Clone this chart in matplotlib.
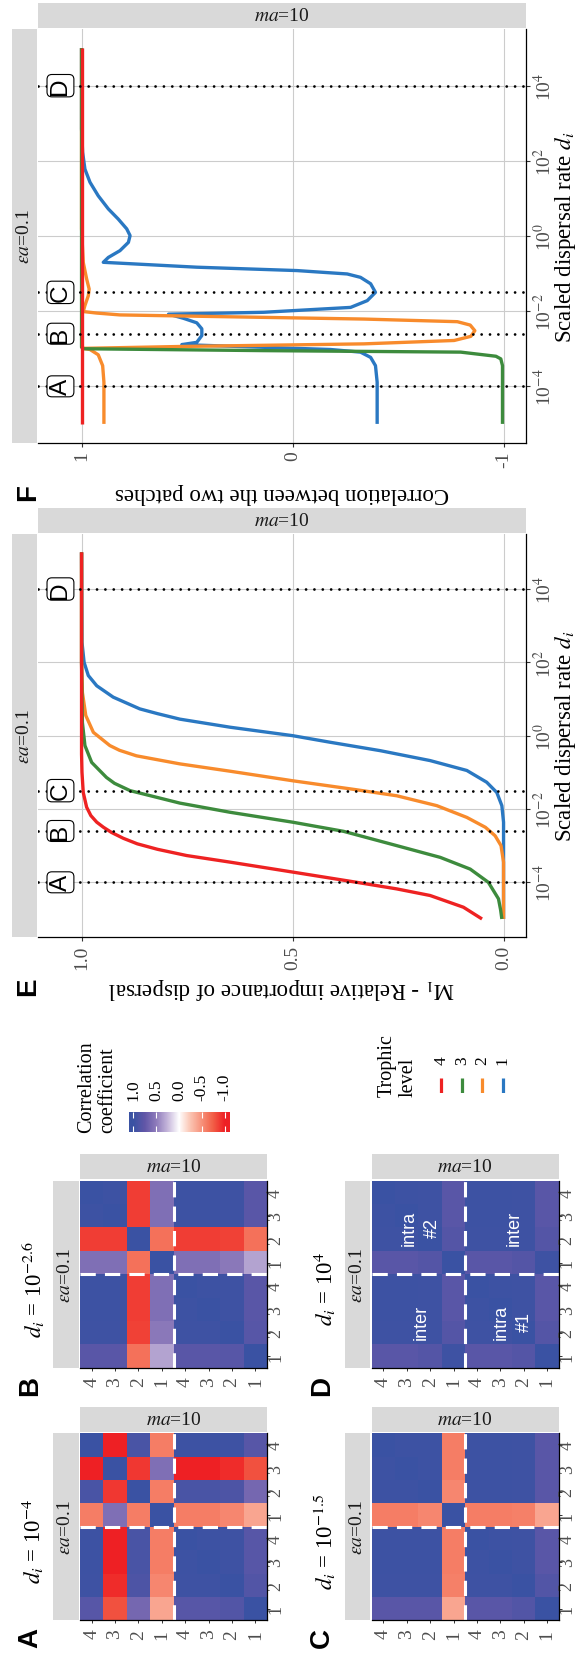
#!/usr/bin/env python3
# Correlation heatmaps (A-D) and dispersal curves (E, F), drawn in portrait
# orientation (the original landscape figure turned a quarter turn left).
# Produces: out.png

import numpy as np
import matplotlib
matplotlib.use("Agg")
import matplotlib.pyplot as plt
from matplotlib.colors import LinearSegmentedColormap, Normalize
from matplotlib.ticker import NullLocator
from matplotlib.transforms import ScaledTranslation

# ───────────────────────────────────────────────────────────────
#  Data
# ───────────────────────────────────────────────────────────────

# correlation matrices, rows/cols in the order shown on the axes:
# patch 2 levels 4,3,2,1 then patch 1 levels 4,3,2,1
level_ticks = ["4", "3", "2", "1", "4", "3", "2", "1"]

corr_A = [[1.00, -1.00, 0.90, -0.60, 0.98, 0.98, 0.97, 0.82],
          [-1.00, 1.00, -0.90, 0.58, -1.00, -1.00, -0.95, -0.80],
          [0.90, -0.90, 1.00, -0.60, 0.90, 0.90, 0.88, 0.64],
          [-0.60, 0.58, -0.60, 1.00, -0.60, -0.60, -0.55, -0.40],
          [0.98, -1.00, 0.90, -0.60, 1.00, 0.98, 0.97, 0.82],
          [0.98, -1.00, 0.90, -0.60, 0.98, 1.00, 0.97, 0.82],
          [0.97, -0.95, 0.88, -0.55, 0.97, 0.97, 1.00, 0.85],
          [0.82, -0.80, 0.64, -0.40, 0.82, 0.82, 0.85, 1.00]]

corr_B = [[1.00, 0.98, -0.88, 0.58, 0.98, 0.98, 0.97, 0.80],
          [0.98, 1.00, -0.88, 0.58, 0.98, 0.98, 0.97, 0.80],
          [-0.88, -0.88, 1.00, -0.65, -0.88, -0.88, -0.86, -0.65],
          [0.58, 0.58, -0.65, 1.00, 0.58, 0.58, 0.52, 0.33],
          [0.98, 0.98, -0.88, 0.58, 1.00, 0.98, 0.97, 0.80],
          [0.98, 0.98, -0.88, 0.58, 0.98, 1.00, 0.97, 0.80],
          [0.97, 0.97, -0.86, 0.52, 0.97, 0.97, 1.00, 0.82],
          [0.80, 0.80, -0.65, 0.33, 0.80, 0.80, 0.82, 1.00]]

corr_C = [[1.00, 0.98, 0.98, -0.60, 0.98, 0.98, 0.97, 0.80],
          [0.98, 1.00, 0.98, -0.60, 0.98, 0.98, 0.97, 0.80],
          [0.98, 0.98, 1.00, -0.55, 0.98, 0.98, 0.97, 0.80],
          [-0.60, -0.60, -0.55, 1.00, -0.60, -0.60, -0.58, -0.40],
          [0.98, 0.98, 0.98, -0.60, 1.00, 0.98, 0.97, 0.80],
          [0.98, 0.98, 0.98, -0.60, 0.98, 1.00, 0.97, 0.80],
          [0.97, 0.97, 0.97, -0.58, 0.97, 0.97, 1.00, 0.85],
          [0.80, 0.80, 0.80, -0.40, 0.80, 0.80, 0.85, 1.00]]

corr_D = [[1.00, 0.98, 0.97, 0.80, 0.98, 0.98, 0.97, 0.80],
          [0.98, 1.00, 0.97, 0.80, 0.98, 0.98, 0.97, 0.80],
          [0.97, 0.97, 1.00, 0.83, 0.97, 0.97, 0.97, 0.83],
          [0.80, 0.80, 0.83, 1.00, 0.80, 0.80, 0.83, 0.97],
          [0.98, 0.98, 0.97, 0.80, 1.00, 0.98, 0.97, 0.80],
          [0.98, 0.98, 0.97, 0.80, 0.98, 1.00, 0.97, 0.80],
          [0.97, 0.97, 0.97, 0.83, 0.97, 0.97, 1.00, 0.83],
          [0.80, 0.80, 0.83, 0.97, 0.80, 0.80, 0.83, 1.00]]

titles = [r"$d_i$ = 10$^{-4}$", r"$d_i$ = 10$^{-2.6}$",
          r"$d_i$ = 10$^{-1.5}$", r"$d_i$ = 10$^{4}$"]

# block annotations in D: (text, column, row)
d_notes = [("intra\n#2", 2.1, 2.0), ("inter", 6.1, 2.0),
           ("inter", 2.1, 6.0), ("intra\n#1", 6.05, 6.0)]

# E: M1 vs log10(d_i), per trophic level
E_log_4 = [-5.0, -4.68, -4.36, -4.18, -4.0, -3.68, -3.45, -3.27, -3.1, -2.95,
           -2.8, -2.64, -2.5, -2.36, -2.18, -1.95, -1.55, -1.0, -0.5, 5.0]
E_val_4 = [0.051, 0.095, 0.174, 0.253, 0.348, 0.522, 0.648, 0.751, 0.820, 0.868,
           0.901, 0.929, 0.948, 0.964, 0.978, 0.988, 0.996, 0.999, 1.0, 1.0]
E_log_3 = [-5.0, -4.75, -4.45, -4.0, -3.64, -3.32, -3.0, -2.61, -2.36, -2.09,
           -1.84, -1.5, -1.3, -1.14, -0.73, -0.27, 0.36, 2.0, 5.0]
E_val_3 = [0.004, 0.007, 0.012, 0.036, 0.079, 0.150, 0.253, 0.379, 0.5, 0.648,
           0.767, 0.885, 0.922, 0.941, 0.976, 0.992, 0.998, 1.0, 1.0]
E_log_2 = [-5.0, -3.45, -3.0, -2.73, -2.5, -2.23, -1.91, -1.64, -1.47, -1.23,
           -0.97, -0.77, -0.55, -0.4, -0.27, 0.09, 0.55, 1.18, 2.0, 5.0]
E_val_2 = [0.0, 0.0, 0.006, 0.02, 0.043, 0.087, 0.158, 0.253, 0.352, 0.5,
           0.648, 0.767, 0.870, 0.910, 0.933, 0.972, 0.990, 0.998, 1.0, 1.0]
E_log_1 = [-5.0, -2.36, -1.91, -1.55, -1.27, -0.95, -0.68, -0.41, -0.18, 0.0,
           0.23, 0.45, 0.6, 0.73, 1.05, 1.36, 1.64, 2.0, 2.55, 5.0]
E_val_1 = [0.0, 0.0, 0.004, 0.016, 0.040, 0.087, 0.174, 0.292, 0.411, 0.5,
           0.648, 0.767, 0.820, 0.862, 0.925, 0.964, 0.984, 0.994, 0.999, 1.0]

# F: correlation between patches vs log10(d_i)
F_log_4 = [-5.0, 5.0]
F_val_4 = [1.0, 1.0]
F_log_3 = [-5.0, -3.45, -3.27, -3.2, -3.09, -3.05, -3.0, -2.96, 5.0]
F_val_3 = [-0.995, -0.995, -0.987, -0.964, -0.797, 0.137, 0.992, 1.0, 1.0]
F_log_2 = [-5.0, -3.89, -3.45, -3.16, -3.02, -2.99, -2.94, -2.87, -2.78, -2.67,
           -2.52, -2.37, -2.28, -2.21, -2.15, -2.10, -2.05, -2.01, -1.85, -1.59,
           -1.41, -1.14, -0.70, 0.19, 5.0]
F_val_2 = [0.894, 0.894, 0.90, 0.921, 0.960, 0.992, 0.533, -0.338, -0.766, -0.845,
           -0.864, -0.842, -0.781, -0.338, 0.295, 0.818, 0.929, 0.992, 0.984, 0.968,
           0.964, 0.976, 0.992, 1.0, 1.0]
F_log_1 = [-5.0, -3.89, -3.45, -3.23, -3.09, -3.02, -2.89, -2.83, -2.65, -2.47,
           -2.31, -2.19, -2.08, -2.03, -1.90, -1.72, -1.50, -1.27, -1.10, -1.01,
           -0.92, -0.83, -0.70, -0.57, -0.39, -0.17, 0.01, 0.19, 0.45, 0.72,
           1.07, 1.43, 1.78, 2.23, 2.85, 5.0]
F_val_1 = [-0.401, -0.401, -0.393, -0.370, -0.322, -0.180, 0.525, 0.454, 0.430, 0.430,
           0.454, 0.517, 0.588, 0.137, -0.275, -0.354, -0.393, -0.370, -0.322, -0.259,
           -0.021, 0.454, 0.897, 0.873, 0.818, 0.778, 0.770, 0.786, 0.826, 0.873,
           0.921, 0.960, 0.984, 0.995, 1.0, 1.0]

# dispersal rates of panels A-D (log10)
mark_logs = [-4.0, -2.6, -1.5, 4.0]
mark_letters = ["A", "B", "C", "D"]

levels = ["4", "3", "2", "1"]
level_colors = ["#EE2222", "#3D8B3D", "#F88B2C", "#2A78C2"]

legend_ticks = [1.0, 0.5, 0.0, -0.5, -1.0]
legend_labels = ["1.0", "0.5", "0.0", "-0.5", "-1.0"]

# ───────────────────────────────────────────────────────────────
#  Style helpers
# ───────────────────────────────────────────────────────────────

W, H = 579, 1658
plt.rcParams["font.family"] = ["Liberation Serif", "DejaVu Serif"]
plt.rcParams["mathtext.fontset"] = "stix"
SANS = ["Liberation Sans", "DejaVu Sans"]
STRIP = "#D9D9D9"
GRID = "#CCCCCC"
TXT = "#1A1A1A"
TICK = "#333333"

cmap = LinearSegmentedColormap.from_list("corr", [
    (0.0, "#EE2024"), (0.125, "#F25E46"), (0.25, "#F7917A"), (0.375, "#FBC4B2"),
    (0.5, "#FFFFFF"), (0.625, "#C6B7DB"), (0.75, "#8E7BBB"), (0.875, "#6257A8"),
    (1.0, "#3A52A3")])
norm = Normalize(vmin=-1, vmax=1)

fig = plt.figure(figsize=(W / 100, H / 100), dpi=100)


def px_axes(x0, y0, x1, y1):
    """Axes from a pixel box (top-left origin)."""
    return fig.add_axes([x0 / W, 1 - y1 / H, (x1 - x0) / W, (y1 - y0) / H])


def px_text(x, y, s, **kw):
    return fig.text(x / W, 1 - y / H, s, **kw)


def strip(x0, y0, x1, y1, label, rot):
    ax = px_axes(x0, y0, x1, y1)
    ax.set_facecolor(STRIP)
    ax.set_xticks([])
    ax.set_yticks([])
    for s in ax.spines.values():
        s.set_visible(False)
    ax.text(0.5, 0.5, label, transform=ax.transAxes, ha="center", va="center",
            rotation=rot, fontsize=14, color=TXT)


def bottom_right_spines(ax):
    for side in ("left", "top"):
        ax.spines[side].set_visible(False)
    for side in ("bottom", "right"):
        ax.spines[side].set_color("black")
        ax.spines[side].set_linewidth(0.9)


# ───────────────────────────────────────────────────────────────
#  Heatmaps A-D
# ───────────────────────────────────────────────────────────────

HM = 187.0


def heatmap(mat, x0, y0, title, letter, notes=()):
    ax = px_axes(x0, y0, x0 + HM, y0 + HM)
    ax.pcolormesh(np.arange(9), np.arange(9), np.array(mat), cmap=cmap, norm=norm)
    ax.set_xlim(0, 8)
    ax.set_ylim(8, 0)
    ax.axvline(4, color="white", lw=2.2, ls=(0, (5, 3)))
    ax.axhline(4, color="white", lw=2.2, ls=(0, (5, 3)))
    pos = np.arange(8) + 0.5
    ax.set_xticks(pos)
    ax.set_xticklabels(level_ticks, rotation=90, fontsize=14, color="#4D4D4D")
    ax.yaxis.tick_right()
    ax.set_yticks(pos)
    ax.set_yticklabels(level_ticks, rotation=90, va="center", fontsize=13,
                       color="#4D4D4D")
    ax.tick_params(axis="x", length=2.5, width=0.7, pad=3.5, color=TICK)
    ax.tick_params(axis="y", length=2.5, width=0.7, pad=-2.5, color=TICK)
    bottom_right_spines(ax)
    for txt, cx, cy in notes:
        ax.text(cx, cy, txt, rotation=90, ha="center", va="center", color="white",
                fontsize=13, family=SANS, linespacing=1.5, multialignment="center")
    strip(x0, y0 - 26.5, x0 + HM, y0 - 1.5, r"$ma$=10", 0)
    strip(x0 - 27, y0, x0 - 1.5, y0 + HM, r"$\varepsilon a$=0.1", 90)
    px_text(x0 - 47, y0 + HM / 2 + 14, title, rotation=90, ha="center",
            va="center", fontsize=16.5)
    px_text(x0 - 50, y0 + HM + 17, letter, rotation=90, ha="center", va="center",
            fontsize=20, fontweight="bold", family=SANS)


heatmap(corr_A, 80.0, 1434.3, titles[0], "A")
heatmap(corr_B, 80.0, 1181.7, titles[1], "B")
heatmap(corr_C, 371.7, 1434.3, titles[2], "C")
heatmap(corr_D, 371.7, 1181.7, titles[3], "D", d_notes)

# ───────────────────────────────────────────────────────────────
#  Legends
# ───────────────────────────────────────────────────────────────

cax = px_axes(129.2, 1113.3, 229.6, 1133.3)
grad = np.linspace(1.09, -1.11, 220)
cax.imshow(grad[None, :], aspect="auto", cmap=cmap, norm=norm,
           extent=(1.09, -1.11, 0, 1))
cax.set_xlim(1.09, -1.11)
cax.set_ylim(0, 1)
cax.set_yticks([])
cax.set_xticks(legend_ticks)
cax.set_xticklabels(legend_labels, rotation=90, fontsize=12.5)
cax.tick_params(axis="x", direction="in", color="white", length=4, width=0.8,
                top=True, bottom=True, labeltop=True, labelbottom=False, pad=9)
for s in cax.spines.values():
    s.set_visible(False)
px_text(97, 1133.3, "Correlation\ncoefficient", rotation=90, ha="center",
        va="bottom", multialignment="left", fontsize=14.5, linespacing=1.15)

lax = px_axes(430, 1079.3, 513, 1094)
for i, (lev, col) in enumerate(zip(levels, level_colors)):
    lax.plot([i, i], [0, 1], color=col, lw=2.3, solid_capstyle="butt")
lax.set_xlim(-0.55, 3.5)
lax.set_ylim(0, 1)
lax.axis("off")
shift = ScaledTranslation(0, 14 / 100, fig.dpi_scale_trans)
for i, lev in enumerate(levels):
    lax.text(i, 1.0, lev, rotation=90, ha="center", va="bottom", fontsize=12.5,
             transform=lax.transData + shift)
px_text(397.8, 1096.7, "Trophic\nlevel", rotation=90, ha="center", va="bottom",
        multialignment="left", fontsize=14.5, linespacing=1.15)

# ───────────────────────────────────────────────────────────────
#  Dispersal panels E and F
# ───────────────────────────────────────────────────────────────

PX0, PX1 = 38.3, 525.7


def line_panel(y0, y1, series, xlim, xticks, xlabels, ylabel, letter, label_val):
    ax = px_axes(PX0, y0, PX1, y1)
    for logs, vals, col in series:
        ax.plot(vals, 10.0 ** np.array(logs), color=col, lw=2.4, zorder=3,
                solid_joinstyle="round", solid_capstyle="butt")
    ax.set_yscale("log")
    ax.set_ylim(10 ** -5.5, 10 ** 5.5)
    ax.set_xlim(*xlim)
    ax.yaxis.set_minor_locator(NullLocator())
    ax.set_xticks(xticks)
    ax.set_xticklabels(xlabels, rotation=90, fontsize=14, color="#4D4D4D")
    ax.yaxis.tick_right()
    ax.set_yticks([1e-4, 1e-2, 1e0, 1e2, 1e4])
    ax.set_yticklabels([r"10$^{-4}$", r"10$^{-2}$", r"10$^{0}$", r"10$^{2}$",
                        r"10$^{4}$"], rotation=90, va="center", fontsize=14,
                       color="#4D4D4D")
    ax.tick_params(axis="both", length=3, width=0.8, color=TICK)
    ax.tick_params(axis="x", pad=2.5)
    ax.tick_params(axis="y", pad=2.5)
    ax.grid(True, color=GRID, lw=0.8)
    ax.set_axisbelow(True)
    bottom_right_spines(ax)
    for lg, lt in zip(mark_logs, mark_letters):
        ax.axhline(10 ** lg, color="black", lw=2.0, ls=(0, (0.01, 3)),
                   dash_capstyle="round", zorder=4)
        ax.text(label_val, 10 ** lg, lt, rotation=90, ha="center", va="center",
                fontsize=17.5, family=SANS, zorder=5,
                bbox=dict(boxstyle="round,pad=0.1,rounding_size=0.2",
                          fc="white", ec="black", lw=0.8))
    strip(PX0, y0 - 26, PX1, y0 - 1, r"$ma$=10", 0)
    strip(12.2, y0, 37.3, y1, r"$\varepsilon a$=0.1", 90)
    px_text((PX0 + PX1) / 2, y1 + 50, ylabel, rotation=180, ha="center",
            va="center", fontsize=16.5)
    px_text(565, (y0 + y1) / 2, r"Scaled dispersal rate $d_i$", rotation=90,
            ha="center", va="center", fontsize=16.5)
    px_text(27.7, y1 + 48.5, letter, rotation=90, ha="center", va="center",
            fontsize=20, fontweight="bold", family=SANS)


series_E = [(E_log_1, E_val_1, level_colors[3]), (E_log_2, E_val_2, level_colors[2]),
            (E_log_3, E_val_3, level_colors[1]), (E_log_4, E_val_4, level_colors[0])]
series_F = [(F_log_1, F_val_1, level_colors[3]), (F_log_2, F_val_2, level_colors[2]),
            (F_log_3, F_val_3, level_colors[1]), (F_log_4, F_val_4, level_colors[0])]

line_panel(535.0, 938.3, series_E, (1.1025, -0.0525), [1.0, 0.5, 0.0],
           ["1.0", "0.5", "0.0"], r"M$_1$ - Relative importance of dispersal",
           "E", 1.05)
line_panel(30.3, 443.7, series_F, (1.205, -1.105), [1, 0, -1],
           ["1", "0", "-1"], "Correlation between the two patches", "F", 1.1)

fig.savefig("out.png", dpi=100, facecolor="white")
print("[ok] wrote out.png")
